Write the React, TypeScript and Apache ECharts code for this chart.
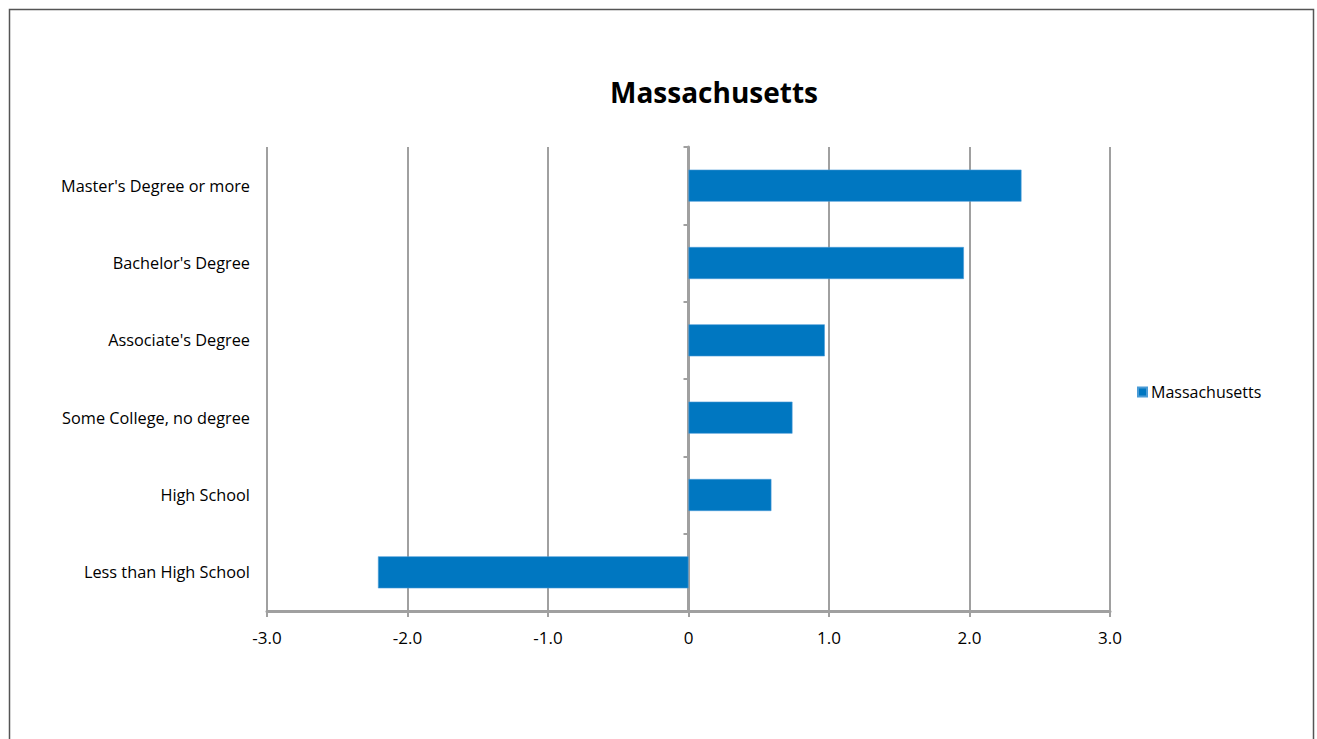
import React, { useEffect, useRef } from "react";
import * as echarts from "echarts";

const categories = [
  "Less than High School",
  "High School",
  "Some College, no degree",
  "Associate's Degree",
  "Bachelor's Degree",
  "Master's Degree or more",
];
const values = [-2.21, 0.59, 0.74, 0.97, 1.96, 2.37];
const seriesName = "Massachusetts";
const titleText = "Massachusetts";
const xMin = -3;
const xMax = 3;
const xStep = 1;

const FONT = "Open Sans";
const GRAY = "#a0a0a0";

export default function App() {
  const ref = useRef<HTMLDivElement>(null);
  useEffect(() => {
    if (!ref.current) return;
    const chart = echarts.init(ref.current, null, { renderer: "svg" });
    chart.setOption({
      animation: false,
      backgroundColor: "#ffffff",
      title: {
        text: titleText,
        left: 709,
        textAlign: "center",
        top: 73,
        textStyle: { fontFamily: FONT, fontSize: 28, fontWeight: "bold", color: "#000" },
      },
      legend: {
        data: [seriesName],
        left: 1132,
        top: 379,
        icon: "rect",
        itemWidth: 9,
        itemHeight: 9,
        itemGap: 6,
        textStyle: { fontFamily: FONT, fontSize: 16, color: "#000", padding: [0, 0, 0, -1] },
      },
      graphic: [
        {
          type: "rect",
          shape: { x: 9.5, y: 9.5, width: 1304, height: 740 },
          style: { fill: "none", stroke: "#555", lineWidth: 1.5 },
          silent: true,
        },
      ],
      grid: { left: 267, right: 207, top: 147, bottom: 128, containLabel: false },
      xAxis: {
        type: "value",
        min: xMin,
        max: xMax,
        interval: xStep,
        axisLine: { show: true, onZero: false, lineStyle: { color: GRAY, width: 3 } },
        axisTick: { show: true, length: 6, lineStyle: { color: GRAY, width: 2 } },
        splitLine: { show: true, lineStyle: { color: GRAY, width: 2 } },
        axisLabel: {
          margin: 18,
          fontFamily: FONT,
          fontSize: 17,
          color: "#000",
          formatter: (v: number) => (v === 0 ? "0" : v.toFixed(1)),
        },
      },
      yAxis: [
        {
          type: "category",
          data: categories,
          position: "left",
          axisLine: { show: false, onZero: false },
          axisTick: { show: false },
          splitLine: { show: false },
          axisLabel: { margin: 17, fontFamily: FONT, fontSize: 16.3, color: "#000" },
        },
        {
          type: "category",
          data: categories,
          position: "left",
          axisLine: { show: true, onZero: true, lineStyle: { color: GRAY, width: 3 } },
          axisTick: { show: true, length: 5, lineStyle: { color: GRAY, width: 2 } },
          axisLabel: { show: false },
          splitLine: { show: false },
        },
      ],
      series: [
        {
          name: seriesName,
          type: "bar",
          yAxisIndex: 0,
          data: values,
          barWidth: 32,
          itemStyle: { color: "#0077c1", borderColor: "#4a9bd6", borderWidth: 0.6 },
        },
      ],
    });
    return () => chart.dispose();
  }, []);
  return (
    <div
      ref={ref}
      style={{ position: "fixed", left: 0, top: 0, width: 1317, height: 739 }}
    />
  );
}
